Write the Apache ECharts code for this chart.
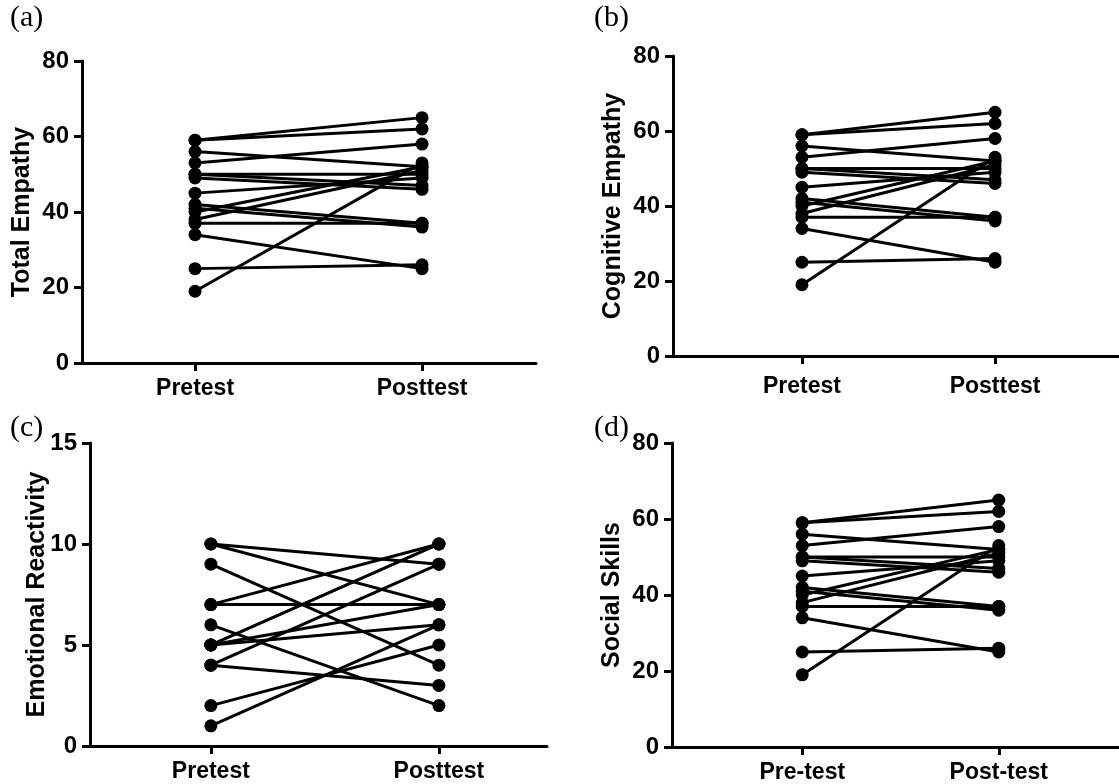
<!DOCTYPE html>
<html>
<head>
<meta charset="utf-8">
<script src="https://cdn.jsdelivr.net/npm/echarts@6/dist/echarts.min.js"></script>
<style>
html,body{margin:0;padding:0;background:#fff;}
#chart{width:1119px;height:784px;}
</style>
</head>
<body>
<div id="chart"></div>
<script>
// ---- Data ----
const catsAB = ["Pretest", "Posttest"];
const catsD = ["Pre-test", "Post-test"];

const totalPre  = [59, 59, 56, 53, 50, 50, 49, 45, 42, 41, 40, 38, 37, 34, 25, 19];
const totalPost = [65, 62, 52, 58, 50, 47, 46, 49, 37, 36, 52, 51, 37, 25, 26, 53];

const cogPre  = [59, 59, 56, 53, 50, 50, 49, 45, 42, 41, 40, 38, 37, 34, 25, 19];
const cogPost = [65, 62, 52, 58, 50, 47, 46, 49, 37, 36, 52, 51, 37, 25, 26, 53];

const emoPre  = [10, 10, 9, 7, 7, 6, 5, 5, 5, 5, 4, 4, 2, 1];
const emoPost = [9, 7, 4, 10, 7, 2, 10, 10, 7, 6, 9, 3, 5, 6];

const socPre  = [59, 59, 56, 53, 50, 50, 49, 45, 42, 41, 40, 38, 37, 34, 25, 19];
const socPost = [65, 62, 52, 58, 50, 47, 46, 49, 37, 36, 52, 51, 37, 25, 26, 53];

const panelLetters = ["(a)", "(b)", "(c)", "(d)"];
const yTitles = ["Total Empathy", "Cognitive Empathy", "Emotional Reactivity", "Social Skills"];

// ---- Layout ----
const FONT = 'Arial, "Liberation Sans", sans-serif';
const panels = [
  {pre: totalPre, post: totalPost, cats: catsAB, ymax: 80, yint: 20,
   grid: {left: 82, top: 61, width: 454, height: 302}, xmin: -0.498, xmax: 1.502, xMargin: 14, nameGap: 47},
  {pre: cogPre, post: cogPost, cats: catsAB, ymax: 80, yint: 20,
   grid: {left: 673, top: 56, width: 446, height: 300}, xmin: -0.668, xmax: 1.642, xMargin: 19, nameGap: 47},
  {pre: emoPre, post: emoPost, cats: catsAB, ymax: 15, yint: 5,
   grid: {left: 90, top: 443, width: 457, height: 303}, xmin: -0.53, xmax: 1.474, xMargin: 14, nameGap: 40},
  {pre: socPre, post: socPost, cats: catsD, ymax: 80, yint: 20,
   grid: {left: 672, top: 443, width: 447, height: 305}, xmin: -0.663, xmax: 1.612, xMargin: 14, nameGap: 47}
];

const grids = [], xAxes = [], yAxes = [], series = [], graphics = [];
const axisLineStyle = {color: '#000', width: 3};

panels.forEach((p, i) => {
  grids.push(Object.assign({containLabel: false}, p.grid));
  xAxes.push({
    type: 'value', gridIndex: i, min: p.xmin, max: p.xmax,
    axisLine: {show: true, onZero: false, lineStyle: axisLineStyle},
    axisTick: {show: true, customValues: [0, 1], length: 8, lineStyle: axisLineStyle},
    axisLabel: {show: true, customValues: [0, 1], margin: p.xMargin,
      formatter: v => p.cats[Math.round(v)],
      color: '#000', fontWeight: 'bold', fontSize: 23, fontFamily: FONT},
    splitLine: {show: false}
  });
  yAxes.push({
    type: 'value', gridIndex: i, min: 0, max: p.ymax, interval: p.yint,
    name: yTitles[i], nameLocation: 'middle', nameGap: p.nameGap,
    nameMoveOverlap: false,
    nameTextStyle: {color: '#000', fontWeight: 'bold', fontSize: 25, fontFamily: FONT},
    axisLine: {show: true, onZero: false, lineStyle: axisLineStyle},
    axisTick: {show: true, length: 8, lineStyle: axisLineStyle},
    axisLabel: {margin: 13, color: '#000', fontWeight: 'bold', fontSize: 24, fontFamily: FONT},
    splitLine: {show: false}
  });
  p.pre.forEach((v, k) => {
    series.push({
      type: 'line', xAxisIndex: i, yAxisIndex: i,
      data: [[0, v], [1, p.post[k]]],
      symbol: 'circle', symbolSize: 13,
      lineStyle: {color: '#000', width: 3},
      itemStyle: {color: '#000'},
      animation: false, silent: true
    });
  });
});

const letterPos = [[28, 20], [612, 20], [28, 430], [612, 430]];
panelLetters.forEach((t, i) => {
  graphics.push({
    type: 'text', left: letterPos[i][0] - 18, top: letterPos[i][1] - 17,
    style: {text: t, fontSize: 30, fontFamily: '"Times New Roman", "Liberation Serif", serif', fill: '#000'}
  });
});

const chart = echarts.init(document.getElementById('chart'));
chart.setOption({
  backgroundColor: '#fff',
  animation: false,
  grid: grids, xAxis: xAxes, yAxis: yAxes, series: series,
  graphic: graphics
});
</script>
</body>
</html>
